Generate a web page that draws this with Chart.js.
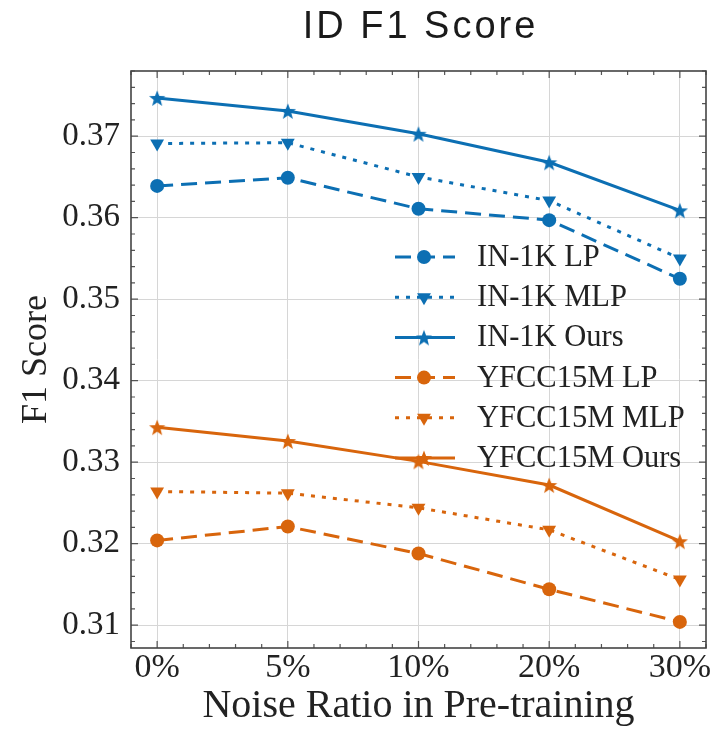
<!DOCTYPE html>
<html>
<head>
<meta charset="utf-8">
<title>ID F1 Score</title>
<script src="https://cdn.jsdelivr.net/npm/chart.js@4.4.1/dist/chart.umd.min.js"></script>
<style>
  html, body { margin: 0; padding: 0; background: #fff; }
  #wrap { width: 715px; height: 732px; }
</style>
</head>
<body>
<div id="wrap"><canvas id="f1Chart"></canvas></div>
<script>
// ---- Data ----
const noiseLabels = ['0%', '5%', '10%', '20%', '30%'];
const in1kLP   = [0.3639, 0.3649, 0.3611, 0.3597, 0.3525];
const in1kMLP  = [0.3691, 0.3692, 0.3650, 0.3621, 0.3550];
const in1kOurs = [0.3747, 0.3731, 0.3703, 0.3668, 0.3609];
const yfccLP   = [0.3204, 0.3221, 0.3188, 0.3144, 0.3104];
const yfccMLP  = [0.3264, 0.3262, 0.3244, 0.3217, 0.3156];
const yfccOurs = [0.3343, 0.3326, 0.3301, 0.3272, 0.3203];
const yTicks = [0.31, 0.32, 0.33, 0.34, 0.35, 0.36, 0.37];

const BLUE = '#0C6FB3';
const ORANGE = '#D8650C';
const SERIF = "'Liberation Serif', 'Times New Roman', serif";

// filled five point star used as a marker
function starMarker(color) {
  const s = 20, c = document.createElement('canvas');
  c.width = s; c.height = s;
  const g = c.getContext('2d');
  g.fillStyle = color;
  g.beginPath();
  for (let i = 0; i < 10; i++) {
    const r = i % 2 ? 3.6 : 8.5;
    const a = -Math.PI / 2 + i * Math.PI / 5;
    g.lineTo(s / 2 + r * Math.cos(a), s / 2 + 1 + r * Math.sin(a));
  }
  g.closePath();
  g.fill();
  return c;
}

function series(label, values, color, kind) {
  const style = {
    LP:   { dash: [16, 8], point: 'circle', radius: 7, rot: 0 },
    MLP:  { dash: [4, 7], point: 'triangle', radius: 8, rot: 180 },
    Ours: { dash: [], point: starMarker(color), radius: 9, rot: 0 }
  }[kind];
  return {
    label,
    data: values.map((v, i) => ({ x: i, y: v })),
    borderColor: color,
    backgroundColor: color,
    borderWidth: 3,
    borderDash: style.dash,
    pointStyle: style.point,
    pointRotation: style.rot,
    pointRadius: style.radius,
    pointBorderWidth: 0,
    pointHoverRadius: style.radius,
    tension: 0
  };
}

// ---- Frame + inward ticks on all four sides ----
const framePlugin = {
  id: 'frame',
  beforeDatasetsDraw(chart) {
    const { ctx, chartArea: a, scales: { x, y } } = chart;
    ctx.save();
    ctx.strokeStyle = '#555';
    ctx.lineWidth = 1.2;
    ctx.beginPath();
    for (let k = -1; k <= 21; k++) {
      const px = x.getPixelForValue(k / 5);
      const len = k % 5 === 0 ? 7 : 4;
      ctx.moveTo(px, a.bottom); ctx.lineTo(px, a.bottom - len);
      ctx.moveTo(px, a.top); ctx.lineTo(px, a.top + len);
    }
    for (let k = 154; k <= 189; k++) {
      const py = y.getPixelForValue(k / 500);
      const len = k % 5 === 0 ? 7 : 4;
      ctx.moveTo(a.left, py); ctx.lineTo(a.left + len, py);
      ctx.moveTo(a.right, py); ctx.lineTo(a.right - len, py);
    }
    ctx.stroke();
    ctx.lineWidth = 1.6;
    ctx.strokeStyle = '#444';
    ctx.strokeRect(a.left, a.top, a.right - a.left, a.bottom - a.top);
    ctx.restore();
  }
};

// ---- Title centred over the plot area ----
const plotTitle = {
  id: 'plotTitle',
  afterDraw(chart) {
    const { ctx, chartArea: a } = chart;
    ctx.save();
    ctx.fillStyle = '#1a1a1a';
    ctx.font = "38px 'Liberation Sans', Arial, sans-serif";
    ctx.letterSpacing = '3px';
    ctx.textAlign = 'center';
    ctx.textBaseline = 'alphabetic';
    ctx.fillText('ID F1 Score', (a.left + a.right) / 2 + 2, 38);
    ctx.restore();
  }
};

// ---- Legend drawn inside the plot, no frame ----
const innerLegend = {
  id: 'innerLegend',
  afterDatasetsDraw(chart) {
    const { ctx } = chart;
    const x0 = 395, x1 = 455, xm = 424, xt = 477, y0 = 257, dy = 40.2;
    ctx.save();
    chart.data.datasets.forEach((ds, i) => {
      const yy = y0 + i * dy;
      ctx.strokeStyle = ds.borderColor;
      ctx.fillStyle = ds.backgroundColor;
      ctx.lineWidth = ds.borderWidth;
      ctx.setLineDash(ds.borderDash);
      ctx.beginPath();
      ctx.moveTo(x0, yy); ctx.lineTo(x1, yy);
      ctx.stroke();
      ctx.setLineDash([]);
      Chart.helpers.drawPoint(ctx, {
        pointStyle: ds.pointStyle, rotation: ds.pointRotation,
        radius: ds.pointRadius, borderWidth: 0
      }, xm, yy);
      ctx.fillStyle = '#222';
      ctx.font = '30.5px ' + SERIF;
      ctx.textAlign = 'left';
      ctx.textBaseline = 'middle';
      ctx.fillText(ds.label, xt, yy + 1);
    });
    ctx.restore();
  }
};

new Chart(document.getElementById('f1Chart'), {
  type: 'line',
  data: {
    datasets: [
      series('IN-1K LP', in1kLP, BLUE, 'LP'),
      series('IN-1K MLP', in1kMLP, BLUE, 'MLP'),
      series('IN-1K Ours', in1kOurs, BLUE, 'Ours'),
      series('YFCC15M LP', yfccLP, ORANGE, 'LP'),
      series('YFCC15M MLP', yfccMLP, ORANGE, 'MLP'),
      series('YFCC15M Ours', yfccOurs, ORANGE, 'Ours')
    ]
  },
  options: {
    responsive: true,
    maintainAspectRatio: false,
    animation: false,
    layout: { padding: { top: 71, right: 6, bottom: 0, left: 0 } },
    plugins: {
      legend: { display: false },
      tooltip: { enabled: false },
      title: { display: false }
    },
    scales: {
      x: {
        type: 'linear',
        min: -0.2,
        max: 4.2,
        afterBuildTicks: s => { s.ticks = noiseLabels.map((_, i) => ({ value: i })); },
        afterFit: s => { s.height = 84; },
        ticks: {
          callback: (v, i) => noiseLabels[i],
          color: '#222',
          font: { family: SERIF, size: 34 },
          padding: 0,
          maxRotation: 0,
          autoSkip: false
        },
        grid: { color: '#d6d6d6', lineWidth: 1, drawTicks: false },
        border: { display: false },
        title: {
          display: true,
          text: 'Noise Ratio in Pre-training',
          color: '#222',
          font: { family: SERIF, size: 40 },
          padding: { top: 0, bottom: 2 }
        }
      },
      y: {
        type: 'linear',
        min: 0.3072,
        max: 0.378,
        afterBuildTicks: s => { s.ticks = yTicks.map(v => ({ value: v })); },
        afterFit: s => { s.width = 131; },
        ticks: {
          callback: v => v.toFixed(2),
          color: '#222',
          font: { family: SERIF, size: 33 },
          padding: 11
        },
        grid: { color: '#d6d6d6', lineWidth: 1, drawTicks: false },
        border: { display: false },
        title: {
          display: true,
          text: 'F1 Score',
          color: '#222',
          font: { family: SERIF, size: 36 },
          padding: { top: 15, bottom: 0 }
        }
      }
    }
  },
  plugins: [framePlugin, innerLegend, plotTitle]
});
</script>
</body>
</html>
